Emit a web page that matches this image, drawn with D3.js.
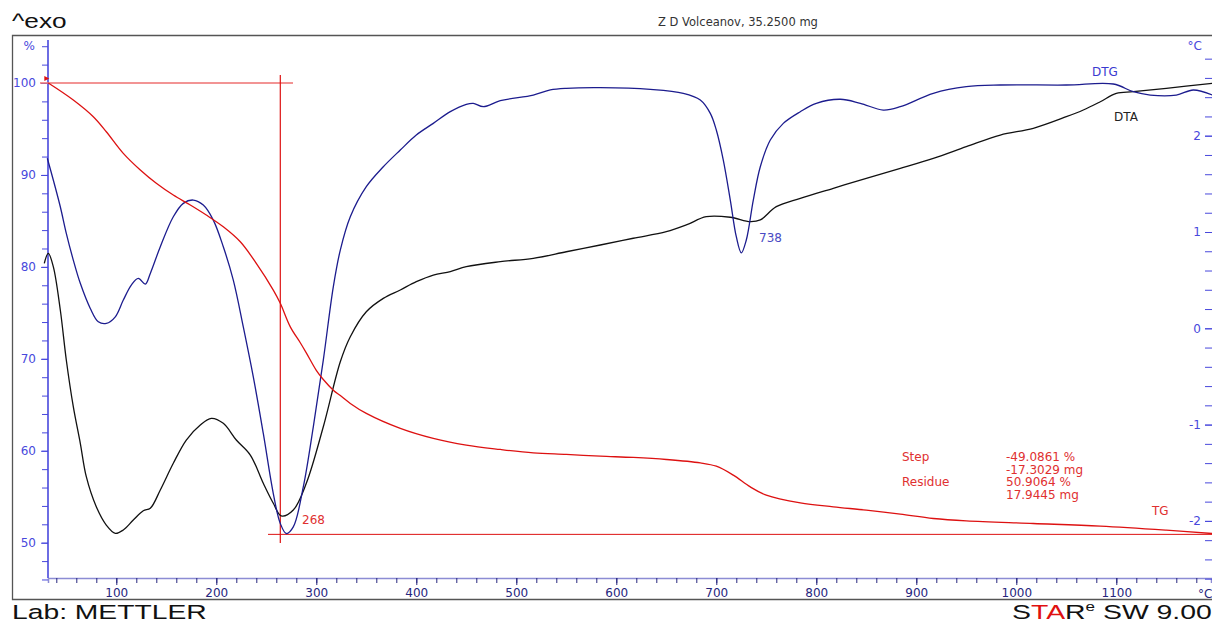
<!DOCTYPE html>
<html>
<head>
<meta charset="utf-8">
<script src="https://cdn.jsdelivr.net/npm/d3@7"></script>
<style>
  html, body { margin: 0; padding: 0; background: #fff; }
  svg { display: block; font-family: 'DejaVu Sans', Verdana, sans-serif; }
</style>
</head>
<body>
<div id="container"></div>
<script>
// TGA / DTA / DTG thermogram - METTLER STARe export
// Z D Volceanov, 35.2500 mg

//### DATA ###
//>>> TG curve: temperature (°C) and mass (%)
const tgTemp = [ 32, 57, 77, 90, 107, 124, 140, 157, 174, 190, 207, 224, 240, 257, 264, 274, 284, 290, 300, 307, 317, 324, 334, 350, 384, 417, 450, 484, 517, 550, 584, 617, 650, 684, 700, 717, 734, 750, 784, 817, 850, 884, 917, 950, 1017, 1084, 1150, 1196 ];
const tgMass = [ 100, 98.15, 96.33, 94.7, 92.35, 90.54, 89.09, 87.81, 86.73, 85.64, 84.36, 82.73, 80.38, 77.48, 76.04, 73.48, 71.75, 70.65, 68.75, 67.75, 66.59, 66.0, 65.15, 64.06, 62.43, 61.34, 60.61, 60.14, 59.77, 59.6, 59.41, 59.27, 59.05, 58.68, 58.32, 57.35, 56.07, 55.17, 54.33, 53.9, 53.54, 53.1, 52.63, 52.37, 52.09, 51.8, 51.36, 51.0 ];

//>>> DTA curve: temperature (°C) and signal (°C)
const dtaTemp = [ 28, 32, 37, 44, 50, 57, 64, 70, 80, 90, 99, 107, 117, 127, 134, 144, 157, 170, 184, 195, 207, 220, 234, 247, 257, 265, 277, 290, 307, 324, 334, 350, 367, 384, 400, 417, 434, 450, 484, 517, 550, 584, 617, 650, 670, 690, 714, 734, 744, 760, 784, 817, 850, 884, 917, 950, 984, 1017, 1050, 1067, 1084, 1100, 1117, 1150, 1196 ];
const dtaSignal = [ 0.675, 0.779, 0.64, 0.19, -0.329, -0.814, -1.194, -1.541, -1.853, -2.043, -2.129, -2.094, -1.991, -1.894, -1.869, -1.679, -1.402, -1.16, -1.004, -0.935, -0.987, -1.16, -1.316, -1.61, -1.817, -1.949, -1.887, -1.61, -1.022, -0.347, -0.087, 0.172, 0.311, 0.398, 0.484, 0.553, 0.588, 0.64, 0.692, 0.727, 0.795, 0.865, 0.935, 1.003, 1.073, 1.159, 1.153, 1.107, 1.125, 1.263, 1.35, 1.454, 1.558, 1.661, 1.765, 1.886, 2.007, 2.077, 2.197, 2.267, 2.353, 2.44, 2.457, 2.492, 2.544 ];

//>>> DTG curve: temperature (°C) and level, read against the % axis
const dtgTemp = [ 31, 37, 44, 50, 57, 64, 74, 82, 90, 99, 107, 115, 122, 129, 134, 144, 157, 167, 177, 187, 197, 207, 217, 227, 237, 247, 257, 264, 270, 277, 287, 297, 307, 317, 324, 334, 350, 367, 384, 400, 417, 434, 450, 457, 467, 484, 517, 534, 550, 584, 634, 667, 684, 694, 700, 707, 714, 720, 725, 730, 737, 744, 754, 767, 784, 800, 824, 844, 867, 884, 917, 950, 984, 1050, 1097, 1117, 1134, 1160, 1177, 1196 ];
const dtgLevel = [ 91.81, 89.45, 86.54, 83.65, 80.74, 78.21, 75.48, 74.03, 73.85, 74.57, 76.39, 78.02, 78.75, 78.13, 79.29, 82.19, 85.45, 86.91, 87.27, 86.72, 85.09, 82.19, 78.56, 73.48, 68.04, 61.88, 55.35, 52.09, 51.0, 51.72, 56.07, 62.6, 69.86, 77.83, 81.83, 85.45, 88.72, 90.89, 92.71, 94.34, 95.61, 96.88, 97.68, 97.79, 97.42, 98.07, 98.69, 99.24, 99.42, 99.49, 99.31, 98.88, 98.15, 96.7, 94.89, 91.62, 87.27, 83.28, 81.53, 82.92, 87.27, 90.89, 93.8, 95.61, 96.88, 97.79, 98.23, 97.79, 97.06, 97.42, 98.88, 99.6, 99.78, 99.78, 99.89, 99.05, 98.69, 98.69, 99.24, 98.69 ];

//>>> Tick labels
const xTickLabels = [ 100, 200, 300, 400, 500, 600, 700, 800, 900, 1000, 1100 ];
const leftTickLabels = [ 50, 60, 70, 80, 90, 100 ];
const rightTickLabels = [ -2, -1, 0, 1, 2 ];

//>>> Step evaluation
const stepStart = 100;
const stepResidue = 50.9064;
const stepTemp = 264;
const peakLabels = [ { temp: 268, text: '268' }, { temp: 738, text: '738' } ];
const stepLines = [
  [ 'Step', '-49.0861 %' ],
  [ '', '-17.3029 mg' ],
  [ 'Residue', '50.9064 %' ],
  [ '', '17.9445 mg' ]
];


//### CREATE THE VISUALIZATION ###
function createVisualization () {

  //_____ VARIABLES _____
  const totalWidth = 1212;
  const totalHeight = 621;
  const plot = { left: 48, right: 1211, top: 40, bottom: 578 };
  //>>> Styling:
  const tgColor = '#dd1111';
  const dtgColor = '#1c1c8e';
  const dtaColor = '#111111';
  const axisBlue = '#4848dc';
  const navy = '#26267e';
  const frameColor = '#555555';
  const wideFont = "'Liberation Sans', Arial, sans-serif";


  //_____ SCALES _____
  const xScale = d3.scaleLinear()
    .domain( [ 31.7, 1194.7 ] )
    .range( [ plot.left, plot.right ] );

  //--- Mass (%), left axis
  const yLeft = d3.scaleLinear()
    .domain( [ 100, 50 ] )
    .range( [ 83, 542.7 ] );

  //--- DTA (°C), right axis
  const yRight = d3.scaleLinear()
    .domain( [ 2, -2 ] )
    .range( [ 135.7, 520.9 ] );


  //_____ SVG _____
  const svg = d3.select( '#container' )
    .append( 'svg' )
    .attr( 'width', totalWidth )
    .attr( 'height', totalHeight );

  //>>> Frame
  svg.append( 'path' )
    .attr( 'd', `M${totalWidth + 2},35.5 H12.5 V599.5 H${totalWidth + 2}` )
    .attr( 'fill', 'none' )
    .attr( 'stroke', frameColor )
    .attr( 'stroke-width', 1.3 );


  //_____ AXES _____
  //>>> X-axis: minor ticks every 20°C, labels every 100°C
  const xMinor = d3.range( 40, 1200, 20 );
  svg.append( 'g' )
    .attr( 'transform', `translate( 0, ${plot.bottom} )` )
    .call( d3.axisBottom( xScale ).tickValues( xMinor ).tickSize( 5 ).tickFormat( '' ) )
    .call( g => g.select( '.domain' ).attr( 'stroke', '#8c8cd4' ).attr( 'stroke-width', 1.5 ) )
    .call( g => g.selectAll( '.tick line' ).attr( 'stroke', navy ) );

  svg.append( 'g' )
    .attr( 'id', 'x-axis' )
    .attr( 'transform', `translate( 0, ${plot.bottom} )` )
    .call( d3.axisBottom( xScale ).tickValues( xTickLabels ).tickSize( 7 ).tickPadding( 3 ).tickFormat( d => String( d ) ) )
    .call( g => g.select( '.domain' ).remove() )
    .call( g => g.selectAll( '.tick line' ).attr( 'stroke', navy ) )
    .call( g => g.selectAll( '.tick text' )
      .attr( 'fill', navy )
      .style( 'font-size', '12px' )
      .style( 'font-family', "'DejaVu Sans', Verdana, sans-serif" ) );

  //--- Unit label at the far right
  svg.append( 'text' )
    .attr( 'x', 1198 )
    .attr( 'y', 598 )
    .attr( 'fill', navy )
    .style( 'font-size', '12px' )
    .text( '°C' );

  //>>> Left axis (%)
  const leftMinor = d3.range( 46, 105, 2 );
  svg.append( 'g' )
    .attr( 'transform', `translate( ${plot.left}, 0 )` )
    .call( d3.axisLeft( yLeft ).tickValues( leftMinor ).tickSize( 6 ).tickFormat( '' ) )
    .call( g => g.select( '.domain' ).attr( 'd', `M0,${plot.top}V${plot.bottom}` ).attr( 'stroke', axisBlue ).attr( 'stroke-width', 1.6 ) )
    .call( g => g.selectAll( '.tick line' ).attr( 'stroke', axisBlue ) );

  svg.append( 'g' )
    .attr( 'id', 'y-axis' )
    .attr( 'transform', `translate( ${plot.left}, 0 )` )
    .call( d3.axisLeft( yLeft ).tickValues( leftTickLabels ).tickSize( 7 ).tickPadding( 5 ) )
    .call( g => g.select( '.domain' ).remove() )
    .call( g => g.selectAll( '.tick line' ).attr( 'stroke', axisBlue ) )
    .call( g => g.selectAll( '.tick text' )
      .attr( 'fill', axisBlue )
      .style( 'font-size', '12px' )
      .style( 'font-family', "'DejaVu Sans', Verdana, sans-serif" ) );

  svg.append( 'text' )
    .attr( 'x', 35 )
    .attr( 'y', yLeft( 104 ) )
    .attr( 'dy', '0.32em' )
    .attr( 'text-anchor', 'end' )
    .attr( 'fill', axisBlue )
    .style( 'font-size', '12px' )
    .text( '%' );

  //>>> Right axis (°C) - the axis line itself sits just past the picture edge
  const rightMinor = d3.range( -13, 15 ).map( d => d / 5 );
  svg.append( 'g' )
    .attr( 'transform', `translate( ${plot.right + 1}, 0 )` )
    .call( d3.axisLeft( yRight ).tickValues( rightMinor ).tickSize( 7 ).tickFormat( '' ) )
    .call( g => g.select( '.domain' ).attr( 'stroke', 'none' ) )
    .call( g => g.selectAll( '.tick line' ).attr( 'stroke', axisBlue ) );

  svg.append( 'g' )
    .attr( 'transform', `translate( ${plot.right + 1}, 0 )` )
    .call( d3.axisLeft( yRight ).tickValues( rightTickLabels ).tickSize( 7 ).tickPadding( 4 ).tickFormat( d => String( d ) ) )
    .call( g => g.select( '.domain' ).remove() )
    .call( g => g.selectAll( '.tick line' ).attr( 'stroke', axisBlue ) )
    .call( g => g.selectAll( '.tick text' )
      .attr( 'fill', axisBlue )
      .style( 'font-size', '12px' )
      .style( 'font-family', "'DejaVu Sans', Verdana, sans-serif" ) );

  svg.append( 'text' )
    .attr( 'x', 1202 )
    .attr( 'y', 46 )
    .attr( 'dy', '0.32em' )
    .attr( 'text-anchor', 'end' )
    .attr( 'fill', axisBlue )
    .style( 'font-size', '12px' )
    .text( '°C' );


  //_____ STEP EVALUATION LINES _____
  //>>> Horizontal line at the start level
  svg.append( 'line' )
    .attr( 'x1', 40 )
    .attr( 'x2', 293 )
    .attr( 'y1', yLeft( stepStart ) )
    .attr( 'y2', yLeft( stepStart ) )
    .attr( 'stroke', '#ee7070' )
    .attr( 'stroke-width', 1.3 );

  //>>> Horizontal line at the residue level
  svg.append( 'line' )
    .attr( 'x1', 268 )
    .attr( 'x2', totalWidth )
    .attr( 'y1', yLeft( stepResidue ) )
    .attr( 'y2', yLeft( stepResidue ) )
    .attr( 'stroke', tgColor )
    .attr( 'stroke-width', 1 );

  //>>> Vertical line at the inflection point
  svg.append( 'line' )
    .attr( 'x1', xScale( stepTemp ) )
    .attr( 'x2', xScale( stepTemp ) )
    .attr( 'y1', 75 )
    .attr( 'y2', 543 )
    .attr( 'stroke', tgColor )
    .attr( 'stroke-width', 1.2 );

  //>>> Start flag
  svg.append( 'path' )
    .attr( 'd', `M${xScale( 32 ) - 4},${yLeft( stepStart ) - 7} l5,2.5 l-5,2.5 z` )
    .attr( 'fill', tgColor );


  //_____ CURVES _____
  const curves = [
    { temps: dtaTemp, values: dtaSignal, scale: yRight, color: dtaColor },
    { temps: dtgTemp, values: dtgLevel, scale: yLeft, color: dtgColor },
    { temps: tgTemp, values: tgMass, scale: yLeft, color: tgColor }
  ];

  curves.forEach( c => {
    const line = d3.line()
      .x( ( d, i ) => xScale( c.temps[ i ] ) )
      .y( d => c.scale( d ) )
      .curve( d3.curveCatmullRom.alpha( 0.5 ) );

    svg.append( 'path' )
      .datum( c.values )
      .attr( 'd', line )
      .attr( 'fill', 'none' )
      .attr( 'stroke', c.color )
      .attr( 'stroke-width', 1.3 )
      .attr( 'stroke-linejoin', 'round' );
  } );


  //_____ LABELS _____
  //>>> Peak temperatures
  svg.append( 'text' )
    .attr( 'x', 302 )
    .attr( 'y', 524 )
    .attr( 'fill', '#e03030' )
    .style( 'font-size', '12px' )
    .text( peakLabels[ 0 ].text );

  svg.append( 'text' )
    .attr( 'x', 759 )
    .attr( 'y', 242 )
    .attr( 'fill', '#4a4ac4' )
    .style( 'font-size', '12px' )
    .text( peakLabels[ 1 ].text );

  //>>> Curve names
  svg.append( 'text' ).attr( 'x', 1092 ).attr( 'y', 75.5 ).attr( 'fill', '#3a3ad0' ).style( 'font-size', '12px' ).text( 'DTG' );
  svg.append( 'text' ).attr( 'x', 1114 ).attr( 'y', 121 ).attr( 'fill', '#222' ).style( 'font-size', '12px' ).text( 'DTA' );
  svg.append( 'text' ).attr( 'x', 1152 ).attr( 'y', 514.5 ).attr( 'fill', '#e03030' ).style( 'font-size', '12px' ).text( 'TG' );

  //>>> Step results
  const stepText = svg.append( 'g' )
    .attr( 'fill', '#e03030' )
    .style( 'font-size', '12px' );

  stepLines.forEach( ( row, i ) => {
    const y = 461 + i * 12.7;
    stepText.append( 'text' ).attr( 'x', 902 ).attr( 'y', y ).text( row[ 0 ] );
    stepText.append( 'text' ).attr( 'x', 1006 ).attr( 'y', y ).text( row[ 1 ] );
  } );


  //_____ HEADER AND FOOTER _____
  //--- The printout uses a horizontally stretched sans face, so scale x
  svg.append( 'text' )
    .attr( 'transform', 'translate( 12, 28 ) scale( 1.25, 1 )' )
    .attr( 'fill', '#111' )
    .style( 'font-family', wideFont )
    .style( 'font-size', '21px' )
    .text( '^exo' );

  svg.append( 'text' )
    .attr( 'id', 'title' )
    .attr( 'x', 738 )
    .attr( 'y', 26 )
    .attr( 'text-anchor', 'middle' )
    .attr( 'fill', '#333' )
    .style( 'font-size', '11.5px' )
    .text( 'Z D Volceanov, 35.2500 mg' );

  svg.append( 'text' )
    .attr( 'transform', 'translate( 12, 619 ) scale( 1.45, 1 )' )
    .attr( 'fill', '#111' )
    .style( 'font-family', wideFont )
    .style( 'font-size', '19.5px' )
    .text( 'Lab: METTLER' );

  const star = svg.append( 'text' )
    .attr( 'transform', 'translate( 1012, 619 ) scale( 1.42, 1 )' )
    .attr( 'fill', '#111' )
    .style( 'font-family', wideFont )
    .style( 'font-size', '20px' );
  star.append( 'tspan' ).text( 'S' );
  star.append( 'tspan' ).attr( 'fill', '#e01010' ).text( 'TA' );
  star.append( 'tspan' ).text( 'R' );
  star.append( 'tspan' ).attr( 'dy', -8 ).style( 'font-size', '12px' ).text( 'e' );
  star.append( 'tspan' ).attr( 'dy', 8 ).text( ' SW 9.00' );
}

createVisualization();
</script>
</body>
</html>
